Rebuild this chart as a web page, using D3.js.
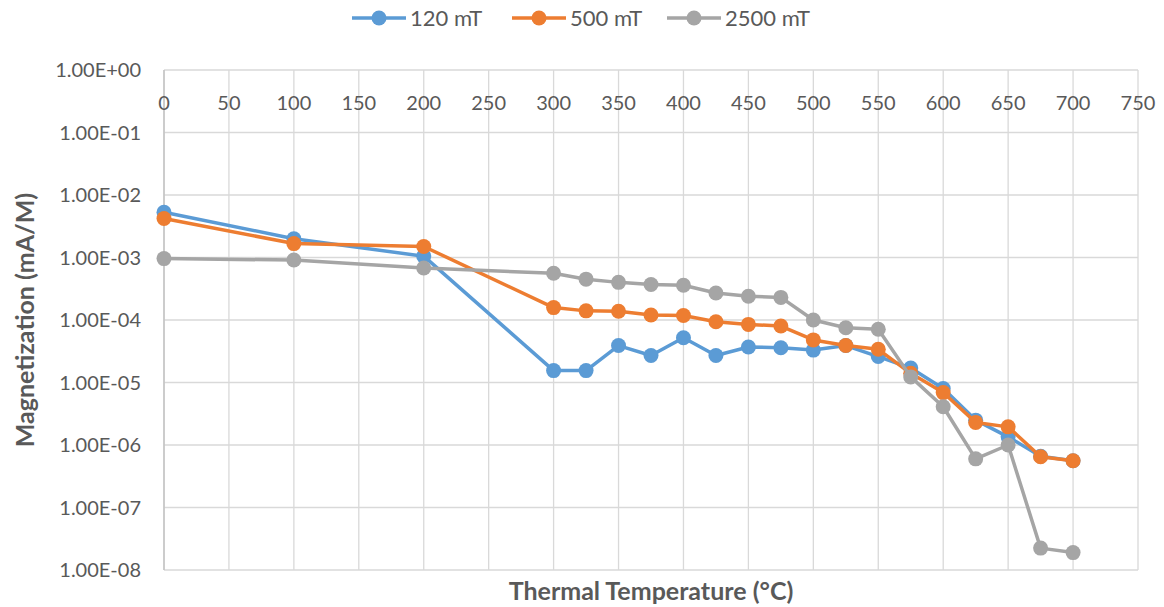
<!DOCTYPE html>
<html>
<head>
<meta charset="utf-8">
<script src="https://cdn.jsdelivr.net/npm/d3@7"></script>
<style>
  body { margin: 0; background: #fff; }
  text { font-family: Lato, "Open Sans", sans-serif; fill: #595959; }
</style>
</head>
<body>
<svg id="chart" width="1164" height="607"></svg>
<script>
var temps = [0, 100, 200, 300, 325, 350, 375, 400, 425, 450, 475, 500, 525, 550, 575, 600, 625, 650, 675, 700];
var mag120 = [5.3e-3, 2.0e-3, 1.05e-3, 1.55e-5, 1.55e-5, 3.9e-5, 2.7e-5, 5.2e-5, 2.7e-5, 3.7e-5, 3.6e-5, 3.3e-5, 3.9e-5, 2.6e-5, 1.7e-5, 8.0e-6, 2.5e-6, 1.35e-6, 6.6e-7, 5.6e-7];
var mag500 = [4.2e-3, 1.67e-3, 1.5e-3, 1.58e-4, 1.4e-4, 1.38e-4, 1.2e-4, 1.18e-4, 9.4e-5, 8.5e-5, 8.0e-5, 4.8e-5, 3.9e-5, 3.4e-5, 1.4e-5, 6.9e-6, 2.3e-6, 1.95e-6, 6.5e-7, 5.6e-7];
var mag2500 = [9.6e-4, 9.1e-4, 6.8e-4, 5.6e-4, 4.5e-4, 4.0e-4, 3.7e-4, 3.6e-4, 2.7e-4, 2.4e-4, 2.3e-4, 1.0e-4, 7.5e-5, 7.1e-5, 1.23e-5, 4.1e-6, 6.0e-7, 1.0e-6, 2.24e-8, 1.9e-8];
var seriesNames = ["120 mT", "500 mT", "2500 mT"];
var colors = ["#5B9BD5", "#ED7D31", "#A5A5A5"];
var xTicks = d3.range(0, 751, 50);
var yTicks = [1, 1e-1, 1e-2, 1e-3, 1e-4, 1e-5, 1e-6, 1e-7, 1e-8];

var svg = d3.select("#chart");
var x = d3.scaleLinear().domain([0, 750]).range([164, 1138]);
var y = d3.scaleLog().domain([1e-8, 1]).range([570, 70]);

// grid
svg.append("g").selectAll("line").data(xTicks).enter().append("line")
  .attr("x1", function(d) { return x(d); }).attr("x2", function(d) { return x(d); })
  .attr("y1", y(1)).attr("y2", y(1e-8))
  .attr("stroke", "#d9d9d9").attr("stroke-width", 1.3);
svg.append("g").selectAll("line").data(yTicks).enter().append("line")
  .attr("x1", x(0)).attr("x2", x(750))
  .attr("y1", function(d) { return y(d); }).attr("y2", function(d) { return y(d); })
  .attr("stroke", "#d9d9d9").attr("stroke-width", 1.3);
// left axis line
svg.append("line").attr("x1", x(0)).attr("x2", x(0)).attr("y1", y(1)).attr("y2", y(1e-8))
  .attr("stroke", "#bfbfbf").attr("stroke-width", 1.3);

// y tick labels
svg.append("g").selectAll("text").data(yTicks).enter().append("text")
  .attr("x", 141).attr("y", function(d) { return y(d); }).attr("dy", "0.35em")
  .attr("text-anchor", "end").style("font-size", "20px")
  .text(function(d) {
    var e = Math.round(Math.log10(d));
    return "1.00E" + (e >= 0 ? "+" : "-") + String(Math.abs(e)).padStart(2, "0");
  });
// x tick labels (axis crosses at top)
svg.append("g").selectAll("text").data(xTicks).enter().append("text")
  .attr("x", function(d) { return x(d); }).attr("y", 103).attr("dy", "0.35em")
  .attr("text-anchor", "middle").style("font-size", "20px")
  .text(function(d) { return d; });

// titles
svg.append("text").attr("x", 651).attr("y", 591).attr("dy", "0.35em")
  .attr("text-anchor", "middle").style("font-size", "25px").style("font-weight", "bold")
  .text("Thermal Temperature (°C)");
svg.append("text").attr("transform", "translate(25,320) rotate(-90)").attr("dy", "0.35em")
  .attr("text-anchor", "middle").style("font-size", "25px").style("font-weight", "bold")
  .text("Magnetization (mA/M)");

// series
var allSeries = [mag120, mag500, mag2500];
var line = d3.line().x(function(d) { return x(d[0]); }).y(function(d) { return y(d[1]); });
allSeries.forEach(function(vals, i) {
  var pts = temps.map(function(t, j) { return [t, vals[j]]; });
  var g = svg.append("g");
  g.append("path").attr("d", line(pts)).attr("fill", "none")
    .attr("stroke", colors[i]).attr("stroke-width", 3.5).attr("stroke-linejoin", "round");
  g.selectAll("circle").data(pts).enter().append("circle")
    .attr("cx", function(d) { return x(d[0]); }).attr("cy", function(d) { return y(d[1]); })
    .attr("r", 7.5).attr("fill", colors[i]);
});

// legend
var legX = [352, 512, 667];
var leg = svg.append("g").selectAll("g").data(seriesNames).enter().append("g")
  .attr("transform", function(d, i) { return "translate(" + legX[i] + ",18)"; });
leg.append("line").attr("x1", 0).attr("x2", 54).attr("y1", 0).attr("y2", 0)
  .attr("stroke", function(d, i) { return colors[i]; }).attr("stroke-width", 3.5);
leg.append("circle").attr("cx", 27).attr("cy", 0).attr("r", 7.5)
  .attr("fill", function(d, i) { return colors[i]; });
leg.append("text").attr("x", 58).attr("y", 0).attr("dy", "0.35em").style("font-size", "22px")
  .text(function(d) { return d; });
</script>
</body>
</html>
